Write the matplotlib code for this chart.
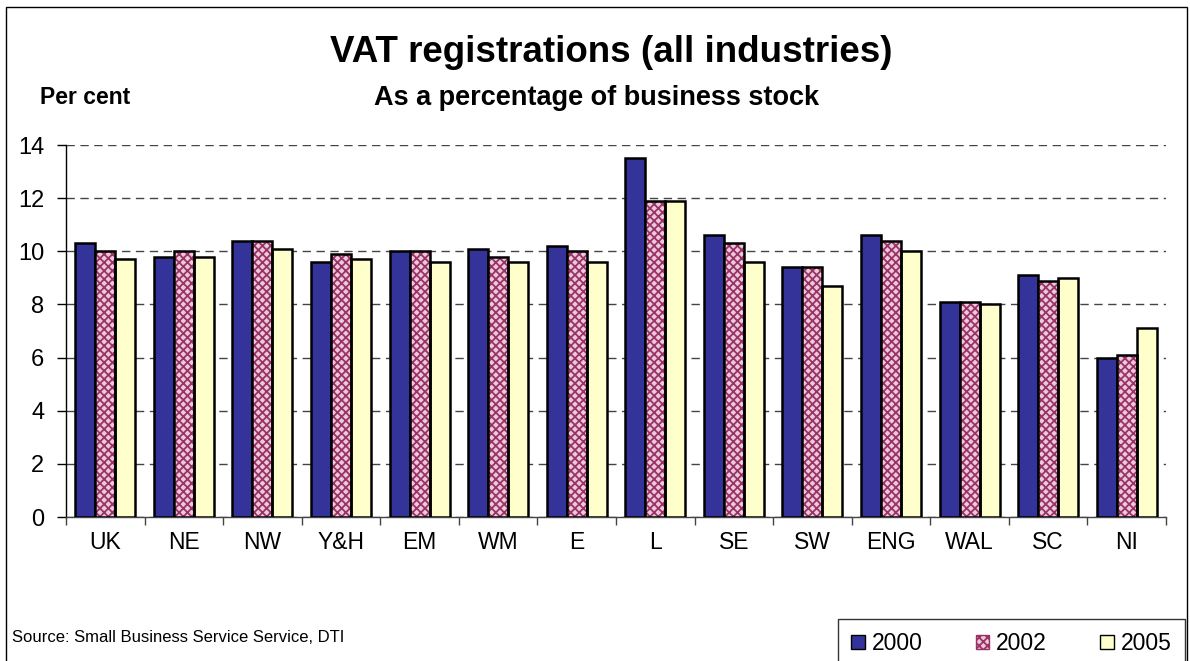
import matplotlib.pyplot as plt
import numpy as np
from matplotlib.patches import Patch, Rectangle

plt.rcParams['font.family'] = ['Liberation Sans', 'DejaVu Sans']

regions = ['UK', 'NE', 'NW', 'Y&H', 'EM', 'WM', 'E', 'L', 'SE', 'SW', 'ENG', 'WAL', 'SC', 'NI']
vat_2000 = [10.3, 9.8, 10.4, 9.6, 10.0, 10.1, 10.2, 13.5, 10.6, 9.4, 10.6, 8.1, 9.1, 6.0]
vat_2002 = [10.0, 10.0, 10.4, 9.9, 10.0, 9.8, 10.0, 11.9, 10.3, 9.4, 10.4, 8.1, 8.9, 6.1]
vat_2005 = [9.7, 9.8, 10.1, 9.7, 9.6, 9.6, 9.6, 11.9, 9.6, 8.7, 10.0, 8.0, 9.0, 7.1]
years = ['2000', '2002', '2005']
y_ticks = [0, 2, 4, 6, 8, 10, 12, 14]

W, H = 1190, 661
fig = plt.figure(figsize=(W / 100, H / 100), dpi=100)
ax = fig.add_axes([66 / W, 1 - 517 / H, 1100 / W, 372 / H])

x = np.arange(len(regions))
bw = 0.254
ax.bar(x - bw, vat_2000, bw, color='#333399', edgecolor='black', linewidth=1.8, zorder=3)
# hatched 2002 bars: pattern first, black outline on top
plt.rcParams['hatch.linewidth'] = 1.3
ax.bar(x, vat_2002, bw, color='#ecc8da', edgecolor='#993366', hatch='xxxx', linewidth=0, zorder=3)
ax.bar(x, vat_2002, bw, fill=False, edgecolor='black', linewidth=1.8, zorder=4)
ax.bar(x + bw, vat_2005, bw, color='#ffffcc', edgecolor='black', linewidth=1.8, zorder=3)

ax.set_xlim(-0.5, len(regions) - 0.5)
ax.set_ylim(0, 14)
ax.set_yticks(y_ticks)
ax.tick_params(axis='y', labelsize=17, length=6.5, width=1, pad=9)
ax.set_xticks(x)
ax.set_xticklabels(regions)
ax.tick_params(axis='x', which='major', length=0, labelsize=16.5, pad=10)
ax.set_xticks(np.arange(-0.5, len(regions)), minor=True)
ax.tick_params(axis='x', which='minor', length=6, width=1, color='#444444')

ax.grid(axis='y', color='#444444', linestyle=(0, (6, 4)), linewidth=1, zorder=0)
ax.set_axisbelow(True)
for s in ['top', 'right']:
    ax.spines[s].set_visible(False)
ax.spines['left'].set_linewidth(1)
ax.spines['bottom'].set_linewidth(1)
ax.spines['bottom'].set_color('#444444')

fig.text(611 / W, 1 - 52 / H, 'VAT registrations (all industries)', ha='center', va='center',
         fontsize=26.5, fontweight='bold')
fig.text(597 / W, 1 - 98 / H, 'As a percentage of business stock', ha='center', va='center',
         fontsize=19.5, fontweight='bold')
fig.text(40 / W, 1 - 97 / H, 'Per cent', ha='left', va='center', fontsize=16.5, fontweight='bold')
fig.text(12 / W, 1 - 637 / H, 'Source: Small Business Service Service, DTI', ha='left', va='center',
         fontsize=12)

fig.patches.append(Rectangle((6 / W, -0.05), 1181 / W, 1.05 - 7 / H, transform=fig.transFigure,
                             fill=False, edgecolor='black', linewidth=1))

handles = [Patch(facecolor='#333399', edgecolor='black'),
           Patch(facecolor='#ecc8da', edgecolor='#993366', hatch='xxxx'),
           Patch(facecolor='#ffffcc', edgecolor='black')]
leg = fig.legend(handles, years, ncol=3, loc='lower right', bbox_to_anchor=(1185 / W, -8 / H),
                 fontsize=16.5, frameon=True, fancybox=False, handlelength=0.6, handleheight=0.6,
                 handletextpad=0.3, columnspacing=2.3, borderpad=0.6, borderaxespad=0)
leg.get_frame().set_edgecolor('black')
leg.get_frame().set_linewidth(1)

fig.savefig('out.png', dpi=100)
